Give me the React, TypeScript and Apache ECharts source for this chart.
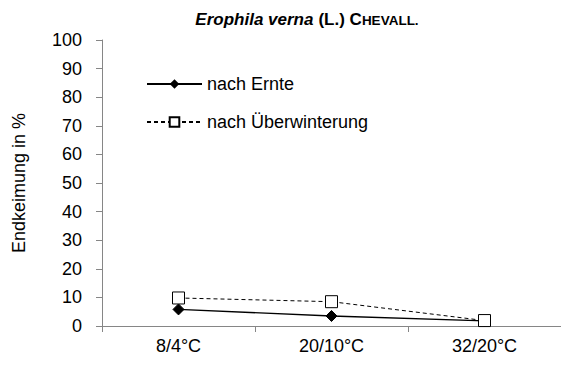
import React, { useEffect, useRef } from "react";
import * as echarts from "echarts";

const categories = ["8/4°C", "20/10°C", "32/20°C"];
const nachErnte = [5.8, 3.5, 1.8];
const nachUeberwinterung = [9.8, 8.5, 1.9];
const seriesNames = ["nach Ernte", "nach Überwinterung"];

export default function App() {
  const ref = useRef<HTMLDivElement>(null);
  useEffect(() => {
    const chart = echarts.init(ref.current!, null, { renderer: "svg" });
    const font = "Liberation Sans, Arial, sans-serif";
    const base = { fontWeight: "bold", fontFamily: font, color: "#000", lineHeight: 20, verticalAlign: "bottom" };
    chart.setOption({
      animation: false,
      textStyle: { fontFamily: font },
      title: {
        text: "{i|Erophila verna} {b|(L.) C}{s|HEVALL.}",
        left: 302,
        textAlign: "center",
        top: 3,
        textStyle: {
          rich: {
            i: { ...base, fontStyle: "italic", fontSize: 17 },
            b: { ...base, fontSize: 17 },
            s: { ...base, fontSize: 13.5, padding: [0, 0, 1, 0] },
          },
        },
      },
      legend: {
        orient: "vertical",
        left: 141,
        top: 70,
        itemWidth: 55,
        itemHeight: 12,
        itemGap: 20,
        textStyle: { fontSize: 18, color: "#000", fontFamily: font },
        data: seriesNames,
      },
      grid: { left: 102, right: -7, top: 40, bottom: 40, containLabel: false },
      xAxis: {
        type: "category",
        data: categories,
        axisLine: { lineStyle: { color: "#868686" } },
        axisTick: { show: true, length: 6, lineStyle: { color: "#868686" } },
        axisLabel: { fontSize: 18, color: "#000", margin: 11, fontFamily: font },
      },
      yAxis: {
        type: "value",
        min: 0,
        max: 100,
        interval: 10,
        name: "Endkeimung in %",
        nameLocation: "middle",
        nameGap: 74,
        nameTextStyle: { fontSize: 18, color: "#000", fontFamily: font },
        axisLine: { show: true, lineStyle: { color: "#868686" } },
        axisTick: { show: true, length: 6, lineStyle: { color: "#868686" } },
        splitLine: { show: false },
        axisLabel: { fontSize: 18, color: "#000", margin: 20, fontFamily: font },
      },
      series: [
        {
          name: seriesNames[0],
          type: "line",
          data: nachErnte,
          symbol: "diamond",
          symbolSize: 11,
          lineStyle: { color: "#000", width: 1.3, type: "solid" },
          itemStyle: { color: "#000", borderColor: "#000" },
        },
        {
          name: seriesNames[1],
          type: "line",
          data: nachUeberwinterung,
          symbol: "rect",
          symbolSize: 12,
          lineStyle: { color: "#000", width: 1, type: [4, 3] },
          itemStyle: { color: "#fff", borderColor: "#000", borderWidth: 1 },
        },
      ],
    });
    return () => chart.dispose();
  }, []);
  return <div ref={ref} style={{ width: 561, height: 366, position: "absolute", left: 0, top: 0 }} />;
}
